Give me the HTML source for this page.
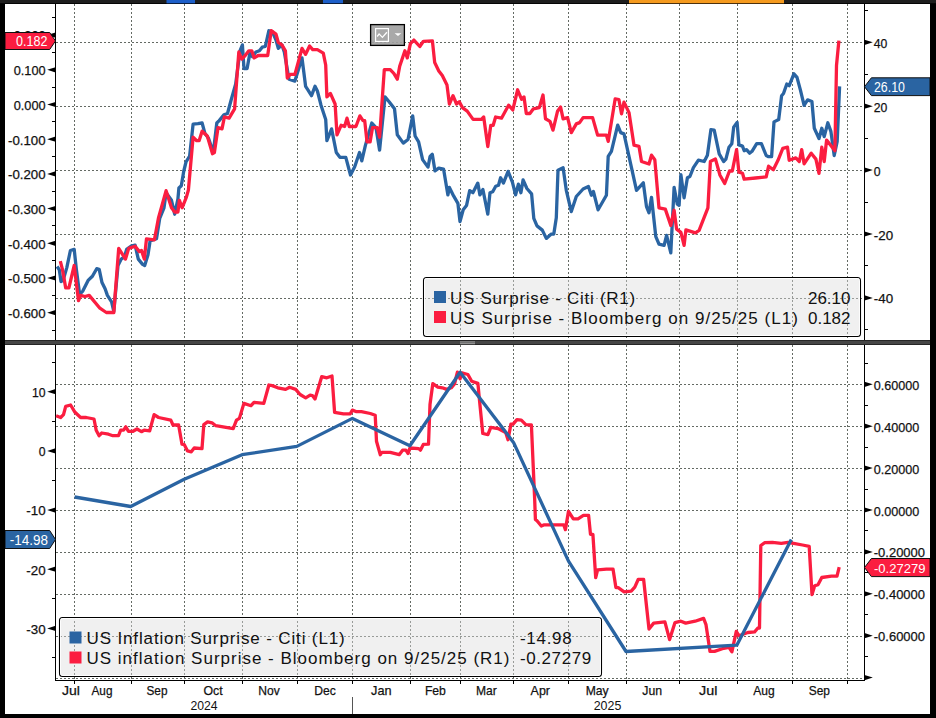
<!DOCTYPE html><html><head><meta charset="utf-8"><style>
html,body{margin:0;padding:0;background:#fff;width:936px;height:718px;overflow:hidden}
svg{position:absolute;left:0;top:0;display:block}
text{font-family:"Liberation Sans", sans-serif} .tk{stroke:#111;stroke-width:0.25px}
</style></head><body>
<svg width="936" height="718" viewBox="0 0 936 718">
<rect x="0" y="0" width="936" height="718" fill="#fff"/>
<g stroke="#646a64" stroke-width="1" stroke-dasharray="2,2" fill="none">
<line x1="74.5" y1="4" x2="74.5" y2="340"/>
<line x1="74.5" y1="345" x2="74.5" y2="679"/>
<line x1="131.5" y1="4" x2="131.5" y2="340"/>
<line x1="131.5" y1="345" x2="131.5" y2="679"/>
<line x1="184.5" y1="4" x2="184.5" y2="340"/>
<line x1="184.5" y1="345" x2="184.5" y2="679"/>
<line x1="242.5" y1="4" x2="242.5" y2="340"/>
<line x1="242.5" y1="345" x2="242.5" y2="679"/>
<line x1="297.5" y1="4" x2="297.5" y2="340"/>
<line x1="297.5" y1="345" x2="297.5" y2="679"/>
<line x1="352.5" y1="4" x2="352.5" y2="340"/>
<line x1="352.5" y1="345" x2="352.5" y2="679"/>
<line x1="410.5" y1="4" x2="410.5" y2="340"/>
<line x1="410.5" y1="345" x2="410.5" y2="679"/>
<line x1="460.5" y1="4" x2="460.5" y2="340"/>
<line x1="460.5" y1="345" x2="460.5" y2="679"/>
<line x1="513.5" y1="4" x2="513.5" y2="340"/>
<line x1="513.5" y1="345" x2="513.5" y2="679"/>
<line x1="568.5" y1="4" x2="568.5" y2="340"/>
<line x1="568.5" y1="345" x2="568.5" y2="679"/>
<line x1="626.5" y1="4" x2="626.5" y2="340"/>
<line x1="626.5" y1="345" x2="626.5" y2="679"/>
<line x1="679.5" y1="4" x2="679.5" y2="340"/>
<line x1="679.5" y1="345" x2="679.5" y2="679"/>
<line x1="737.5" y1="4" x2="737.5" y2="340"/>
<line x1="737.5" y1="345" x2="737.5" y2="679"/>
<line x1="792.5" y1="4" x2="792.5" y2="340"/>
<line x1="792.5" y1="345" x2="792.5" y2="679"/>
<line x1="847.5" y1="4" x2="847.5" y2="340"/>
<line x1="847.5" y1="345" x2="847.5" y2="679"/>
<line x1="56" y1="42.5" x2="864" y2="42.5"/>
<line x1="56" y1="106.5" x2="864" y2="106.5"/>
<line x1="56" y1="170.5" x2="864" y2="170.5"/>
<line x1="56" y1="234.5" x2="864" y2="234.5"/>
<line x1="56" y1="298.5" x2="864" y2="298.5"/>
<line x1="56" y1="384.5" x2="864" y2="384.5"/>
<line x1="56" y1="426.5" x2="864" y2="426.5"/>
<line x1="56" y1="468.5" x2="864" y2="468.5"/>
<line x1="56" y1="510.5" x2="864" y2="510.5"/>
<line x1="56" y1="552.5" x2="864" y2="552.5"/>
<line x1="56" y1="594.5" x2="864" y2="594.5"/>
<line x1="56" y1="636.5" x2="864" y2="636.5"/>
<line x1="56" y1="678.5" x2="864" y2="678.5"/>
</g>
<g stroke="#000" stroke-width="1" fill="none">
<line x1="55.5" y1="3" x2="55.5" y2="340"/>
<line x1="864.5" y1="3" x2="864.5" y2="340"/>
<line x1="55.5" y1="345" x2="55.5" y2="680"/>
<line x1="864.5" y1="345" x2="864.5" y2="680"/>
<line x1="55" y1="680.5" x2="865" y2="680.5"/>
</g>
<path d="M55.5,32.5 L47.2,35.1 L55.5,37.7 Z" fill="#000"/>
<text class="tk" x="13.7" y="40.4" font-size="13.4" fill="#111111" textLength="31.9" lengthAdjust="spacingAndGlyphs">0.200</text>
<path d="M55.5,67.2 L47.2,69.8 L55.5,72.4 Z" fill="#000"/>
<text class="tk" x="13.7" y="75.1" font-size="13.4" fill="#111111" textLength="31.9" lengthAdjust="spacingAndGlyphs">0.100</text>
<path d="M55.5,101.9 L47.2,104.5 L55.5,107.1 Z" fill="#000"/>
<text class="tk" x="13.7" y="109.8" font-size="13.4" fill="#111111" textLength="31.9" lengthAdjust="spacingAndGlyphs">0.000</text>
<path d="M55.5,136.6 L47.2,139.2 L55.5,141.8 Z" fill="#000"/>
<text class="tk" x="8.0" y="144.5" font-size="13.4" fill="#111111" textLength="37.6" lengthAdjust="spacingAndGlyphs">-0.100</text>
<path d="M55.5,171.3 L47.2,173.9 L55.5,176.5 Z" fill="#000"/>
<text class="tk" x="8.0" y="179.2" font-size="13.4" fill="#111111" textLength="37.6" lengthAdjust="spacingAndGlyphs">-0.200</text>
<path d="M55.5,206.0 L47.2,208.6 L55.5,211.2 Z" fill="#000"/>
<text class="tk" x="8.0" y="213.9" font-size="13.4" fill="#111111" textLength="37.6" lengthAdjust="spacingAndGlyphs">-0.300</text>
<path d="M55.5,240.7 L47.2,243.3 L55.5,245.9 Z" fill="#000"/>
<text class="tk" x="8.0" y="248.6" font-size="13.4" fill="#111111" textLength="37.6" lengthAdjust="spacingAndGlyphs">-0.400</text>
<path d="M55.5,275.4 L47.2,278.0 L55.5,280.6 Z" fill="#000"/>
<text class="tk" x="8.0" y="283.3" font-size="13.4" fill="#111111" textLength="37.6" lengthAdjust="spacingAndGlyphs">-0.500</text>
<path d="M55.5,310.1 L47.2,312.7 L55.5,315.3 Z" fill="#000"/>
<text class="tk" x="8.0" y="318.0" font-size="13.4" fill="#111111" textLength="37.6" lengthAdjust="spacingAndGlyphs">-0.600</text>
<line x1="52" y1="17.5" x2="55.5" y2="17.5" stroke="#000" stroke-width="1"/>
<line x1="52" y1="52.5" x2="55.5" y2="52.5" stroke="#000" stroke-width="1"/>
<line x1="52" y1="87.5" x2="55.5" y2="87.5" stroke="#000" stroke-width="1"/>
<line x1="52" y1="121.5" x2="55.5" y2="121.5" stroke="#000" stroke-width="1"/>
<line x1="52" y1="156.5" x2="55.5" y2="156.5" stroke="#000" stroke-width="1"/>
<line x1="52" y1="191.5" x2="55.5" y2="191.5" stroke="#000" stroke-width="1"/>
<line x1="52" y1="225.5" x2="55.5" y2="225.5" stroke="#000" stroke-width="1"/>
<line x1="52" y1="260.5" x2="55.5" y2="260.5" stroke="#000" stroke-width="1"/>
<line x1="52" y1="295.5" x2="55.5" y2="295.5" stroke="#000" stroke-width="1"/>
<line x1="52" y1="330.5" x2="55.5" y2="330.5" stroke="#000" stroke-width="1"/>
<path d="M864.5,39.7 L872.8,42.3 L864.5,44.9 Z" fill="#000"/>
<text class="tk" x="873.8" y="47.8" font-size="13.4" fill="#111111" textLength="13.6" lengthAdjust="spacingAndGlyphs">40</text>
<path d="M864.5,103.6 L872.8,106.2 L864.5,108.8 Z" fill="#000"/>
<text class="tk" x="873.8" y="111.7" font-size="13.4" fill="#111111" textLength="13.6" lengthAdjust="spacingAndGlyphs">20</text>
<path d="M864.5,167.5 L872.8,170.1 L864.5,172.7 Z" fill="#000"/>
<text class="tk" x="873.8" y="175.6" font-size="13.4" fill="#111111" textLength="6.8" lengthAdjust="spacingAndGlyphs">0</text>
<path d="M864.5,231.4 L872.8,234.0 L864.5,236.6 Z" fill="#000"/>
<text class="tk" x="873.8" y="239.5" font-size="13.4" fill="#111111" textLength="19.3" lengthAdjust="spacingAndGlyphs">-20</text>
<path d="M864.5,295.3 L872.8,297.9 L864.5,300.5 Z" fill="#000"/>
<text class="tk" x="873.8" y="303.4" font-size="13.4" fill="#111111" textLength="19.3" lengthAdjust="spacingAndGlyphs">-40</text>
<line x1="864.5" y1="10.5" x2="868" y2="10.5" stroke="#000" stroke-width="1"/>
<line x1="864.5" y1="74.5" x2="868" y2="74.5" stroke="#000" stroke-width="1"/>
<line x1="864.5" y1="138.5" x2="868" y2="138.5" stroke="#000" stroke-width="1"/>
<line x1="864.5" y1="202.5" x2="868" y2="202.5" stroke="#000" stroke-width="1"/>
<line x1="864.5" y1="265.5" x2="868" y2="265.5" stroke="#000" stroke-width="1"/>
<line x1="864.5" y1="329.5" x2="868" y2="329.5" stroke="#000" stroke-width="1"/>
<path d="M55.5,389.1 L47.2,391.7 L55.5,394.3 Z" fill="#000"/>
<text class="tk" x="32.0" y="397.0" font-size="13.4" fill="#111111" textLength="13.6" lengthAdjust="spacingAndGlyphs">10</text>
<path d="M55.5,448.3 L47.2,450.9 L55.5,453.5 Z" fill="#000"/>
<text class="tk" x="38.8" y="456.2" font-size="13.4" fill="#111111" textLength="6.8" lengthAdjust="spacingAndGlyphs">0</text>
<path d="M55.5,507.5 L47.2,510.1 L55.5,512.7 Z" fill="#000"/>
<text class="tk" x="26.3" y="515.4" font-size="13.4" fill="#111111" textLength="19.3" lengthAdjust="spacingAndGlyphs">-10</text>
<path d="M55.5,566.6 L47.2,569.2 L55.5,571.8 Z" fill="#000"/>
<text class="tk" x="26.3" y="574.5" font-size="13.4" fill="#111111" textLength="19.3" lengthAdjust="spacingAndGlyphs">-20</text>
<path d="M55.5,625.8 L47.2,628.4 L55.5,631.0 Z" fill="#000"/>
<text class="tk" x="26.3" y="633.7" font-size="13.4" fill="#111111" textLength="19.3" lengthAdjust="spacingAndGlyphs">-30</text>
<line x1="52" y1="362.5" x2="55.5" y2="362.5" stroke="#000" stroke-width="1"/>
<line x1="52" y1="421.5" x2="55.5" y2="421.5" stroke="#000" stroke-width="1"/>
<line x1="52" y1="480.5" x2="55.5" y2="480.5" stroke="#000" stroke-width="1"/>
<line x1="52" y1="539.5" x2="55.5" y2="539.5" stroke="#000" stroke-width="1"/>
<line x1="52" y1="598.5" x2="55.5" y2="598.5" stroke="#000" stroke-width="1"/>
<line x1="52" y1="657.5" x2="55.5" y2="657.5" stroke="#000" stroke-width="1"/>
<path d="M864.5,381.7 L872.8,384.3 L864.5,386.9 Z" fill="#000"/>
<text class="tk" x="873.8" y="389.8" font-size="13.4" fill="#111111" textLength="45.5" lengthAdjust="spacingAndGlyphs">0.60000</text>
<path d="M864.5,423.6 L872.8,426.2 L864.5,428.8 Z" fill="#000"/>
<text class="tk" x="873.8" y="431.7" font-size="13.4" fill="#111111" textLength="45.5" lengthAdjust="spacingAndGlyphs">0.40000</text>
<path d="M864.5,465.5 L872.8,468.1 L864.5,470.7 Z" fill="#000"/>
<text class="tk" x="873.8" y="473.6" font-size="13.4" fill="#111111" textLength="45.5" lengthAdjust="spacingAndGlyphs">0.20000</text>
<path d="M864.5,507.4 L872.8,510.0 L864.5,512.6 Z" fill="#000"/>
<text class="tk" x="873.8" y="515.5" font-size="13.4" fill="#111111" textLength="45.5" lengthAdjust="spacingAndGlyphs">0.00000</text>
<path d="M864.5,549.3 L872.8,551.9 L864.5,554.5 Z" fill="#000"/>
<text class="tk" x="873.8" y="557.4" font-size="13.4" fill="#111111" textLength="51.2" lengthAdjust="spacingAndGlyphs">-0.20000</text>
<path d="M864.5,591.2 L872.8,593.8 L864.5,596.4 Z" fill="#000"/>
<text class="tk" x="873.8" y="599.3" font-size="13.4" fill="#111111" textLength="51.2" lengthAdjust="spacingAndGlyphs">-0.40000</text>
<path d="M864.5,633.1 L872.8,635.7 L864.5,638.3 Z" fill="#000"/>
<text class="tk" x="873.8" y="641.2" font-size="13.4" fill="#111111" textLength="51.2" lengthAdjust="spacingAndGlyphs">-0.60000</text>
<path d="M864.5,675.0 L872.8,677.6 L864.5,680.2 Z" fill="#000"/>
<line x1="864.5" y1="363.5" x2="868" y2="363.5" stroke="#000" stroke-width="1"/>
<line x1="864.5" y1="405.5" x2="868" y2="405.5" stroke="#000" stroke-width="1"/>
<line x1="864.5" y1="447.5" x2="868" y2="447.5" stroke="#000" stroke-width="1"/>
<line x1="864.5" y1="489.5" x2="868" y2="489.5" stroke="#000" stroke-width="1"/>
<line x1="864.5" y1="530.5" x2="868" y2="530.5" stroke="#000" stroke-width="1"/>
<line x1="864.5" y1="572.5" x2="868" y2="572.5" stroke="#000" stroke-width="1"/>
<line x1="864.5" y1="614.5" x2="868" y2="614.5" stroke="#000" stroke-width="1"/>
<line x1="864.5" y1="656.5" x2="868" y2="656.5" stroke="#000" stroke-width="1"/>
<line x1="74.5" y1="680" x2="74.5" y2="684" stroke="#000" stroke-width="1"/>
<line x1="131.5" y1="680" x2="131.5" y2="684" stroke="#000" stroke-width="1"/>
<line x1="184.5" y1="680" x2="184.5" y2="684" stroke="#000" stroke-width="1"/>
<line x1="242.5" y1="680" x2="242.5" y2="684" stroke="#000" stroke-width="1"/>
<line x1="297.5" y1="680" x2="297.5" y2="684" stroke="#000" stroke-width="1"/>
<line x1="352.5" y1="680" x2="352.5" y2="684" stroke="#000" stroke-width="1"/>
<line x1="410.5" y1="680" x2="410.5" y2="684" stroke="#000" stroke-width="1"/>
<line x1="460.5" y1="680" x2="460.5" y2="684" stroke="#000" stroke-width="1"/>
<line x1="513.5" y1="680" x2="513.5" y2="684" stroke="#000" stroke-width="1"/>
<line x1="568.5" y1="680" x2="568.5" y2="684" stroke="#000" stroke-width="1"/>
<line x1="626.5" y1="680" x2="626.5" y2="684" stroke="#000" stroke-width="1"/>
<line x1="679.5" y1="680" x2="679.5" y2="684" stroke="#000" stroke-width="1"/>
<line x1="737.5" y1="680" x2="737.5" y2="684" stroke="#000" stroke-width="1"/>
<line x1="792.5" y1="680" x2="792.5" y2="684" stroke="#000" stroke-width="1"/>
<line x1="847.5" y1="680" x2="847.5" y2="684" stroke="#000" stroke-width="1"/>
<text class="tk" x="62.0" y="695" font-size="13.3" fill="#111111" textLength="18" lengthAdjust="spacingAndGlyphs">Jul</text>
<text class="tk" x="91.5" y="695" font-size="13.3" fill="#111111" textLength="21" lengthAdjust="spacingAndGlyphs">Aug</text>
<text class="tk" x="146.5" y="695" font-size="13.3" fill="#111111" textLength="21" lengthAdjust="spacingAndGlyphs">Sep</text>
<text class="tk" x="203.4" y="695" font-size="13.3" fill="#111111" textLength="19.2" lengthAdjust="spacingAndGlyphs">Oct</text>
<text class="tk" x="258.2" y="695" font-size="13.3" fill="#111111" textLength="21.5" lengthAdjust="spacingAndGlyphs">Nov</text>
<text class="tk" x="314.2" y="695" font-size="13.3" fill="#111111" textLength="21.5" lengthAdjust="spacingAndGlyphs">Dec</text>
<text class="tk" x="371.1" y="695" font-size="13.3" fill="#111111" textLength="20.5" lengthAdjust="spacingAndGlyphs">Jan</text>
<text class="tk" x="424.9" y="695" font-size="13.3" fill="#111111" textLength="21" lengthAdjust="spacingAndGlyphs">Feb</text>
<text class="tk" x="476.0" y="695" font-size="13.3" fill="#111111" textLength="20.8" lengthAdjust="spacingAndGlyphs">Mar</text>
<text class="tk" x="530.6" y="695" font-size="13.3" fill="#111111" textLength="19.4" lengthAdjust="spacingAndGlyphs">Apr</text>
<text class="tk" x="585.7" y="695" font-size="13.3" fill="#111111" textLength="23" lengthAdjust="spacingAndGlyphs">May</text>
<text class="tk" x="642.3" y="695" font-size="13.3" fill="#111111" textLength="19.8" lengthAdjust="spacingAndGlyphs">Jun</text>
<text class="tk" x="699.1" y="695" font-size="13.3" fill="#111111" textLength="18.4" lengthAdjust="spacingAndGlyphs">Jul</text>
<text class="tk" x="753.2" y="695" font-size="13.3" fill="#111111" textLength="21.5" lengthAdjust="spacingAndGlyphs">Aug</text>
<text class="tk" x="808.8" y="695" font-size="13.3" fill="#111111" textLength="21.2" lengthAdjust="spacingAndGlyphs">Sep</text>
<text x="190.4" y="710" font-size="13.3" fill="#111111" textLength="27.2" lengthAdjust="spacingAndGlyphs">2024</text>
<text x="593.7" y="710" font-size="13.3" fill="#111111" textLength="27.6" lengthAdjust="spacingAndGlyphs">2025</text>
<line x1="352.5" y1="697" x2="352.5" y2="714" stroke="#555" stroke-width="1"/>
<svg x="55" y="3" width="810" height="337" viewBox="55 3 810 337" overflow="hidden">
<polyline points="57.1,266.5 59.3,269.7 61.0,281.5 63.1,280.4 66.8,267.6 70.4,250.5 74.2,249.4 76.4,269.7 79.6,294.3 82.8,291.1 88.1,280.4 92.4,276.2 96.7,268.7 99.2,269.3 102.0,282.6 105.2,289.0 107.4,295.4 111.6,301.8 113.8,311.4 118.0,265.5 121.2,259.1 124.4,256.9 126.6,249.4 130.9,246.2 135.1,245.2 138.3,259.1 142.6,264.4 144.7,265.5 148.0,254.8 150.1,240.9 156.5,238.8 159.7,218.5 164.0,207.8 166.1,192.8 171.5,200.3 174.7,214.2 177.9,199.2 178.9,188.0 181.3,185.7 183.7,171.5 186.0,162.0 189.6,156.1 193.1,124.1 197.9,123.7 202.1,123.0 205.0,133.6 208.5,138.3 213.3,152.5 216.8,123.0 219.2,120.6 223.9,114.7 227.5,113.5 231.0,100.5 235.7,83.9 240.0,50.8 242.4,44.9 244.0,68.5 247.1,68.5 249.9,53.1 252.3,56.7 255.9,52.0 259.4,50.8 262.2,47.2 265.3,46.5 268.9,30.7 272.4,31.8 276.0,40.1 278.3,48.4 281.9,44.9 284.3,52.0 289.0,79.2 294.9,81.1 302.0,57.9 305.6,86.3 307.9,89.8 311.5,95.7 315.0,86.3 317.4,91.0 321.0,105.2 325.7,119.4 326.9,140.7 331.6,128.9 336.3,152.5 339.9,157.3 345.8,157.3 350.5,175.0 354.7,166.7 359.5,152.5 361.8,160.8 365.4,145.4 371.8,123.0 376.0,127.7 379.6,150.2 385.0,96.9 389.1,101.7 394.5,108.8 397.3,134.8 403.3,143.1 408.0,139.5 412.7,115.9 415.1,136.0 418.6,141.9 422.6,159.6 428.0,167.1 430.1,156.4 432.3,154.3 435.0,170.9 438.7,168.2 443.6,169.2 447.9,194.9 449.4,187.4 453.6,195.9 457.9,203.4 460.0,221.6 463.2,209.8 466.5,205.6 469.7,190.6 472.9,192.7 477.8,183.1 479.9,194.9 482.9,189.5 487.8,214.1 490.0,192.7 492.7,191.7 495.7,186.3 498.5,185.3 500.6,177.8 503.4,183.1 508.1,171.4 512.4,182.1 515.6,194.9 518.4,184.2 520.9,192.7 523.1,179.9 526.9,188.5 531.6,193.8 533.8,218.4 537.0,225.9 542.3,230.1 546.3,238.4 551.3,234.1 553.8,234.1 556.3,217.8 558.0,170.2 563.1,167.7 566.3,190.3 571.3,211.6 576.3,196.5 583.1,189.0 588.4,186.5 591.4,195.3 593.4,191.5 598.1,209.8 606.4,195.3 608.2,156.4 611.4,151.4 617.7,125.1 620.7,132.6 624.0,133.9 636.5,190.3 643.3,182.8 646.5,206.6 649.0,212.8 651.5,197.3 655.8,236.6 659.0,244.2 664.1,245.4 666.6,235.4 670.8,252.9 674.1,187.3 677.3,204.1 679.1,205.3 680.9,174.7 684.1,197.8 687.4,177.7 689.9,176.5 693.4,167.7 698.4,160.2 704.2,161.5 707.4,155.2 710.9,129.6 714.2,130.1 719.2,153.9 723.6,161.5 725.9,159.1 729.0,147.2 731.8,143.7 733.7,127.1 737.1,122.4 738.9,144.9 742.5,146.1 744.2,150.8 746.5,149.6 749.6,153.2 752.0,151.3 756.7,143.7 761.4,143.7 766.2,155.5 768.6,156.7 771.6,156.7 774.0,121.9 778.7,119.5 781.6,95.8 783.5,93.5 786.8,84.0 789.2,85.7 793.9,73.8 797.0,77.4 800.5,90.4 804.1,105.3 807.6,99.9 811.9,101.5 814.3,128.3 819.0,138.5 821.8,128.3 824.2,136.6 827.8,122.8 830.9,131.4 834.2,155.5 837.2,141.3 839.6,86.4" fill="none" stroke="#2a64a2" stroke-width="3.3" stroke-linejoin="round" stroke-linecap="butt"/>
<polyline points="60.3,261.2 62.5,269.7 65.7,287.9 68.9,287.9 74.2,265.5 78.5,300.7 80.6,295.4 84.9,296.5 89.2,295.4 99.9,308.2 106.3,312.5 113.8,312.5 118.7,248.4 125.5,259.1 128.7,248.4 135.1,246.2 139.4,251.6 141.5,250.5 144.3,259.1 146.5,238.8 154.4,239.8 158.6,217.4 166.1,190.7 171.5,207.8 174.7,212.0 177.9,212.0 179.4,200.3 182.1,207.8 186.4,197.1 188.4,190.0 193.1,137.2 196.7,140.7 199.1,140.7 202.1,131.2 207.3,136.0 212.5,153.7 214.4,152.5 218.0,127.7 222.0,128.9 224.4,117.0 229.1,118.2 234.6,108.8 238.8,52.0 241.7,59.1 245.2,55.5 248.8,50.8 251.8,50.8 254.2,57.9 258.2,55.5 267.7,55.5 271.2,30.7 276.0,34.2 278.3,42.5 281.9,44.9 285.4,50.8 287.3,78.0 290.2,74.4 294.9,74.4 302.0,48.4 305.6,54.3 309.6,46.0 312.7,49.6 317.4,49.6 323.3,53.1 325.7,65.0 326.9,96.9 330.4,93.4 335.1,104.0 337.0,134.8 341.1,125.3 344.6,126.5 347.0,118.2 349.3,126.5 355.9,126.5 359.9,115.9 363.0,120.6 364.7,120.6 367.0,141.9 370.1,141.9 372.5,127.7 377.2,127.7 379.6,137.2 384.3,69.7 390.2,69.7 393.8,73.3 397.3,79.2 399.7,66.2 404.9,50.8 407.3,57.9 410.4,43.7 413.9,40.1 419.8,46.5 423.4,41.3 432.4,40.8 434.7,62.6 438.8,70.9 442.3,75.6 447.0,85.1 449.4,104.0 453.0,95.7 456.5,104.0 459.3,101.7 462.4,107.6 467.2,111.1 473.1,119.4 481.4,119.4 483.7,117.0 487.8,146.6 490.8,125.3 493.2,125.3 495.6,117.0 501.5,118.2 508.6,105.2 512.8,109.9 517.6,89.8 521.6,99.3 524.0,96.9 526.3,113.5 529.9,113.5 533.4,108.8 539.3,107.6 543.0,95.0 545.5,118.8 550.0,121.4 553.0,130.1 557.5,111.3 560.6,107.1 563.1,118.8 567.6,117.6 571.3,132.6 576.3,123.9 579.6,122.6 583.1,117.6 592.6,117.6 597.6,135.1 606.4,135.1 608.2,141.4 615.2,98.8 618.9,99.5 621.5,113.8 624.0,102.1 629.0,112.6 634.0,145.2 639.0,146.4 641.5,161.5 649.0,164.0 651.5,155.2 654.8,159.7 659.0,207.8 665.3,209.1 670.8,225.4 674.1,210.3 676.6,229.1 680.9,232.4 684.1,245.4 685.9,229.9 695.4,232.9 699.1,230.4 707.9,207.8 710.4,161.5 715.4,158.9 720.0,175.2 724.7,183.5 729.5,171.0 732.3,171.0 736.6,149.6 738.9,172.1 742.5,173.3 744.2,179.2 755.5,178.0 766.2,176.8 768.6,166.2 773.3,169.7 778.0,160.3 782.8,148.4 787.5,147.2 789.2,160.3 795.8,157.9 799.3,161.5 801.7,149.6 804.1,163.8 811.2,153.2 815.9,159.1 819.0,173.3 821.8,147.2 824.2,161.5 826.6,140.1 834.9,150.8 836.5,65.5 838.9,40.7" fill="none" stroke="#fb1d40" stroke-width="3.3" stroke-linejoin="round" stroke-linecap="butt"/>
</svg>
<svg x="55" y="345" width="810" height="335" viewBox="55 345 810 335" overflow="hidden">
<polyline points="56.1,415.7 60.6,417.5 63.5,414.6 65.7,406.3 70.6,405.0 75.0,412.3 80.6,417.5 86.2,417.5 94.0,419.0 96.2,430.2 99.1,435.7 101.8,433.0 108.5,434.2 112.9,435.7 118.5,435.7 120.7,430.2 123.6,430.2 125.8,426.8 128.5,431.3 133.0,431.3 137.0,429.0 141.4,431.7 144.1,430.2 149.7,430.8 154.1,414.6 158.6,417.5 170.8,420.1 173.0,425.0 178.6,425.0 182.0,444.2 184.2,444.6 187.5,450.9 191.3,451.8 194.2,448.0 202.0,448.6 203.8,424.6 207.6,421.9 212.0,422.8 215.8,425.7 233.2,428.6 236.5,420.1 239.4,418.4 243.9,403.4 251.0,405.7 254.0,402.3 263.8,403.4 268.9,385.0 272.3,385.6 277.8,387.8 285.6,389.4 289.6,387.2 295.7,389.4 300.1,394.5 305.7,397.9 310.1,395.2 312.4,395.6 315.0,399.0 321.7,376.7 326.8,377.8 332.0,376.0 334.6,412.3 343.5,413.9 350.2,413.9 352.4,410.1 356.5,411.7 361.4,411.7 370.3,413.5 375.2,415.2 376.5,441.3 380.3,454.7 381.8,452.4 390.3,452.4 399.2,454.7 402.6,450.2 405.9,450.2 408.1,453.5 409.9,448.0 418.8,448.6 420.4,450.2 423.3,444.4 428.5,444.2 430.0,404.5 432.8,383.7 437.8,387.2 442.3,387.8 446.7,389.4 451.2,387.8 454.5,384.0 457.4,372.2 460.1,378.9 461.9,372.9 467.9,374.5 471.7,381.2 477.9,383.4 479.7,402.3 482.8,433.5 487.9,434.6 490.8,427.3 498.0,428.6 501.3,430.2 505.7,432.4 508.0,439.7 510.9,424.1 513.1,424.1 516.9,419.7 521.3,420.1 525.8,424.6 531.4,425.0 534.7,500.0 535.4,519.4 537.0,520.8 541.3,526.0 543.7,524.9 563.8,524.9 565.4,529.6 568.5,511.4 573.3,518.9 578.0,518.9 583.4,515.4 588.6,515.4 590.5,534.3 592.9,534.3 595.7,577.6 597.6,569.8 606.4,569.1 613.0,569.1 615.9,587.6 618.2,587.6 624.1,591.8 631.2,591.1 634.8,587.1 638.3,579.3 643.6,579.3 649.0,629.0 653.7,623.1 664.9,621.9 669.6,639.6 675.0,622.6 680.9,621.2 685.7,623.1 695.1,621.2 703.6,618.4 706.0,624.7 710.0,651.4 714.5,651.4 722.3,648.7 729.0,647.4 731.9,651.8 736.3,631.4 739.0,635.8 747.9,632.5 754.6,631.8 757.9,628.0 759.5,628.0 760.8,545.6 764.6,542.7 772.4,542.3 781.3,543.4 788.0,542.3 793.6,543.4 802.5,545.0 809.2,546.3 812.0,594.6 814.7,585.7 818.1,584.6 821.8,577.5 831.4,576.1 837.0,576.1 839.2,567.2" fill="none" stroke="#fb1d40" stroke-width="3.3" stroke-linejoin="round" stroke-linecap="butt"/>
<polyline points="74.6,497.0 130.7,506.5 184.2,479.2 242.1,454.7 296.8,446.4 352.4,418.4 409.9,445.7 460.1,372.2 513.5,442.4 568.5,561.1 626.0,651.5 736.8,645.2 791.3,539.6" fill="none" stroke="#2a64a2" stroke-width="3.3" stroke-linejoin="round" stroke-linecap="butt"/>
</svg>
<rect x="423.5" y="277.5" width="437.0" height="59.0" rx="3" ry="3" fill="#dcdcdc" fill-opacity="0.43" stroke="#000" stroke-width="1.1"/><rect x="424.5" y="278.5" width="435.0" height="57.0" rx="2" ry="2" fill="none" stroke="#fff" stroke-width="0.9"/>
<rect x="434" y="291" width="12" height="12" fill="#2a64a2"/>
<rect x="434" y="311" width="12" height="12" fill="#fb1d40"/>
<text x="450" y="303.5" font-size="17" fill="#111111" textLength="185.2" lengthAdjust="spacing">US Surprise - Citi (R1)</text>
<text x="450" y="323.5" font-size="17" fill="#111111" textLength="347.9" lengthAdjust="spacing">US Surprise - Bloomberg on 9/25/25 (L1)</text>
<text x="850.5" y="303.5" font-size="17" fill="#111111" text-anchor="end">26.10</text>
<text x="850.5" y="323.5" font-size="17" fill="#111111" text-anchor="end">0.182</text>
<rect x="59.5" y="617.5" width="542.0" height="59.0" rx="3" ry="3" fill="#dcdcdc" fill-opacity="0.43" stroke="#000" stroke-width="1.1"/><rect x="60.5" y="618.5" width="540.0" height="57.0" rx="2" ry="2" fill="none" stroke="#fff" stroke-width="0.9"/>
<rect x="69.5" y="631.5" width="12" height="12" fill="#2a64a2"/>
<rect x="69.5" y="651.5" width="12" height="12" fill="#fb1d40"/>
<text x="86.5" y="643.5" font-size="17" fill="#111111" textLength="258.2" lengthAdjust="spacing">US Inflation Surprise - Citi (L1)</text>
<text x="86.5" y="663.5" font-size="17" fill="#111111" textLength="423" lengthAdjust="spacing">US inflation Surprise - Bloomberg on 9/25/25 (R1)</text>
<text x="520" y="643.5" font-size="17" fill="#111111" textLength="51.7" lengthAdjust="spacing">-14.98</text>
<text x="520" y="663.5" font-size="17" fill="#111111" textLength="71.2" lengthAdjust="spacing">-0.27279</text>
<path d="M5,32.5 L49.7,32.5 L55.5,41.0 L49.7,49.5 L5,49.5 Z" fill="#fb1d40" stroke="#111" stroke-width="1"/><text x="16" y="46.0" font-size="14" fill="#fff" textLength="31.4" lengthAdjust="spacingAndGlyphs">0.182</text>
<path d="M5,530.5 L49.7,530.5 L55.5,539.5 L49.7,548.5 L5,548.5 Z" fill="#2a64a2" stroke="#111" stroke-width="1"/><text x="9.7" y="545.0" font-size="14" fill="#fff" textLength="38.2" lengthAdjust="spacingAndGlyphs">-14.98</text>
<path d="M930,77.8 L871.4,77.8 L864.5,86.69999999999999 L871.4,95.6 L930,95.6 Z" fill="#2a64a2" stroke="#111" stroke-width="1"/><text x="874" y="91.8" font-size="14" fill="#fff" textLength="30.9" lengthAdjust="spacingAndGlyphs">26.10</text>
<path d="M930,558.5 L871.4,558.5 L864.5,567.55 L871.4,576.6 L930,576.6 Z" fill="#fb1d40" stroke="#111" stroke-width="1"/><text x="874" y="572.8" font-size="13" fill="#fff" textLength="51.5" lengthAdjust="spacingAndGlyphs">-0.27279</text>
<rect x="370.6" y="24.6" width="33.8" height="20.8" fill="#a0a0a0" fill-opacity="0.9" stroke="#000" stroke-width="1.3"/>
<rect x="375.6" y="28.6" width="12.8" height="12.8" fill="none" stroke="#fff" stroke-width="1.2"/>
<polyline points="377.2,36.5 379.1,33.9 382.4,37.4 386.9,32.3" fill="none" stroke="#fff" stroke-width="1.3"/>
<path d="M394.6,33.2 L401.3,33.2 L398,36 Z" fill="#fff"/>
<rect x="0" y="0" width="5" height="718" fill="#000"/>
<rect x="930" y="0" width="6" height="718" fill="#000"/>
<rect x="0" y="714" width="936" height="4" fill="#000"/>
<rect x="0" y="0" width="936" height="3" fill="#1e1e1e"/><rect x="0" y="3" width="936" height="1" fill="#050505"/>
<rect x="166.5" y="0" width="28.5" height="3.3" fill="#1d5fc9"/>
<rect x="323" y="0" width="20" height="3.3" fill="#1d5fc9"/>
<rect x="629" y="0" width="155" height="3.3" fill="#f59a1e"/>
<rect x="5" y="340" width="925" height="5" fill="#464646"/>
<rect x="5" y="340" width="925" height="1" fill="#262626"/>
<rect x="5" y="344" width="925" height="1" fill="#262626"/>
<rect x="460" y="341.5" width="15" height="0.9" fill="#b0b0b0"/><rect x="460" y="343.3" width="15" height="0.9" fill="#b0b0b0"/>
</svg></body></html>
